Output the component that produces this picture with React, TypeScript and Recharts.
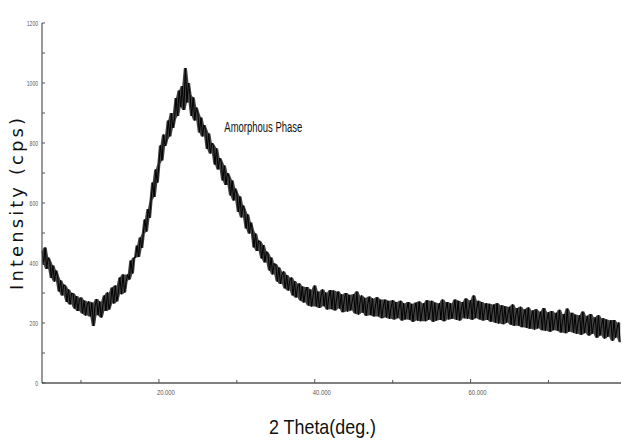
import React from 'react';
import {
  ComposedChart,
  Line,
  Area,
  XAxis,
  YAxis,
  ReferenceDot,
  Label,
} from 'recharts';

// measurement grid: 5.0 deg start, 0.2 deg step
const START_ANGLE = 5;
const STEP = 0.2;

// intensity (cps), five readings per degree
const intensity: number[] = [
  440, 395, 452, 380, 418, // 5
  405, 350, 392, 338, 375, // 6
  355, 305, 342, 292, 328, // 7
  322, 270, 312, 262, 300, // 8
  298, 248, 290, 240, 278, // 9
  285, 232, 275, 225, 262, // 10
  272, 222, 268, 190, 255, // 11
  280, 226, 272, 218, 258, // 12
  292, 240, 302, 245, 270, // 13
  318, 265, 325, 272, 302, // 14
  352, 296, 362, 302, 340, // 15
  362, 345, 408, 365, 418, // 16
  418, 458, 420, 485, 450, // 17
  498, 545, 505, 580, 550, // 18
  610, 668, 620, 712, 668, // 19
  730, 792, 742, 828, 790, // 20
  812, 875, 822, 900, 850, // 21
  880, 950, 890, 975, 920, // 22
  990, 910, 1050, 935, 1000, // 23
  960, 890, 952, 875, 918, // 24
  900, 835, 885, 822, 860, // 25
  845, 780, 832, 765, 800, // 26
  792, 728, 782, 712, 750, // 27
  738, 675, 725, 660, 700, // 28
  688, 625, 675, 608, 648, // 29
  632, 570, 622, 552, 592, // 30
  575, 515, 562, 498, 535, // 31
  510, 452, 498, 440, 475, // 32
  470, 415, 460, 402, 438, // 33
  430, 375, 418, 362, 398, // 34
  395, 338, 385, 330, 362, // 35
  372, 315, 360, 308, 342, // 36
  352, 292, 340, 285, 322, // 37
  332, 275, 322, 268, 305, // 38
  320, 258, 312, 255, 292, // 39
  325, 255, 305, 250, 288, // 40
  312, 256, 302, 245, 285, // 41
  310, 246, 308, 242, 280, // 42
  305, 248, 296, 236, 278, // 43
  300, 238, 294, 242, 272, // 44
  296, 232, 305, 228, 268, // 45
  292, 234, 284, 224, 264, // 46
  288, 226, 282, 222, 260, // 47
  286, 222, 278, 216, 256, // 48
  278, 218, 274, 214, 252, // 49
  276, 212, 270, 216, 248, // 50
  274, 208, 266, 212, 246, // 51
  270, 211, 264, 204, 244, // 52
  268, 208, 272, 206, 242, // 53
  266, 206, 276, 211, 240, // 54
  274, 204, 268, 208, 242, // 55
  266, 210, 278, 206, 244, // 56
  270, 212, 266, 214, 242, // 57
  278, 211, 274, 208, 246, // 58
  270, 216, 282, 214, 248, // 59
  276, 211, 292, 216, 250, // 60
  274, 212, 270, 208, 246, // 61
  266, 210, 264, 204, 240, // 62
  262, 201, 266, 198, 236, // 63
  259, 196, 256, 201, 232, // 64
  254, 194, 262, 191, 228, // 65
  250, 191, 254, 186, 224, // 66
  246, 184, 252, 181, 220, // 67
  242, 178, 246, 182, 216, // 68
  238, 176, 250, 174, 212, // 69
  236, 171, 240, 176, 208, // 70
  234, 174, 244, 168, 206, // 71
  230, 166, 248, 171, 204, // 72
  234, 168, 228, 164, 202, // 73
  226, 161, 238, 166, 200, // 74
  224, 158, 230, 164, 197, // 75
  219, 151, 226, 158, 192, // 76
  216, 148, 212, 154, 188, // 77
  209, 141, 210, 151, 182, // 78
  202, 136, // 79
];

const xTicks = [10, 20, 30, 40, 50, 60, 70];
const xTickLabels: Record<number, string> = { 20: '20.000', 40: '40.000', 60: '60.000' };
const yTicks = [0, 100, 200, 300, 400, 500, 600, 700, 800, 900, 1000, 1100, 1200];
const yTickLabels: Record<number, string> = {
  0: '0', 200: '200', 400: '400', 600: '600', 800: '800', 1000: '1000', 1200: '1200',
};

// dark noise band = spread of neighbouring readings, trace drawn on top
const data = intensity.map((v, i) => {
  const near = intensity.slice(Math.max(0, i - 1), i + 2);
  return {
    angle: START_ANGLE + i * STEP,
    cps: v,
    band: [Math.min(...near), Math.max(...near)],
  };
});

const sans = '"Liberation Sans", Arial, sans-serif';
const axisColor = '#555';

const BottomTick = (props: any) => {
  const { x, y, payload } = props;
  const label = xTickLabels[payload.value];
  return (
    <g>
      <line x1={x} y1={y} x2={x} y2={y - (label ? 4 : 3)} stroke={axisColor} strokeWidth={1} />
      {label && (
        <text
          x={x + 7}
          y={y + 12}
          textAnchor="middle"
          fontSize={8}
          fill="#555"
          fontFamily={sans}
          textLength={18}
          lengthAdjust="spacingAndGlyphs"
        >
          {label}
        </text>
      )}
    </g>
  );
};

const TopTick = (props: any) => {
  const { x, y } = props;
  return <line x1={x} y1={y} x2={x} y2={y + 3} stroke={axisColor} strokeWidth={1} />;
};

const LeftTick = (props: any) => {
  const { x, y, payload } = props;
  const label = yTickLabels[payload.value];
  return (
    <g>
      <line x1={x} y1={y} x2={x + 3} y2={y} stroke={axisColor} strokeWidth={1} />
      {label && (
        <text
          x={x - 4}
          y={y + 3}
          textAnchor="end"
          fontSize={8}
          fill="#555"
          fontFamily={sans}
          textLength={label.length * 2.8}
          lengthAdjust="spacingAndGlyphs"
        >
          {label}
        </text>
      )}
    </g>
  );
};

const RightTick = (props: any) => {
  const { x, y, payload } = props;
  const major = yTickLabels[payload.value] !== undefined;
  return <line x1={x} y1={y} x2={x - (major ? 4 : 2)} y2={y} stroke={axisColor} strokeWidth={1} />;
};

const XTitle = ({ viewBox }: any) => (
  <text
    x={viewBox.x + viewBox.width / 2 - 9}
    y={viewBox.y + 51}
    textAnchor="middle"
    fontSize={21}
    fill="#111"
    fontFamily={sans}
    textLength={107}
    lengthAdjust="spacingAndGlyphs"
  >
    2 Theta(deg.)
  </text>
);

const YTitle = ({ viewBox }: any) => {
  const cx = 23;
  const cy = viewBox.y + viewBox.height / 2 + 1;
  return (
    <text
      transform={`translate(${cx},${cy}) rotate(-90)`}
      textAnchor="middle"
      fontSize={18}
      fill="#111"
      fontFamily='"DejaVu Sans", Verdana, sans-serif'
      textLength={172}
      lengthAdjust="spacing"
    >
      Intensity (cps)
    </text>
  );
};

const NoteLabel = ({ viewBox }: any) => (
  <text
    x={viewBox.x}
    y={viewBox.y + 5}
    textAnchor="middle"
    fontSize={14}
    fill="#111"
    fontFamily={sans}
    textLength={78}
    lengthAdjust="spacingAndGlyphs"
  >
    Amorphous Phase
  </text>
);

export default function App() {
  return (
    <div style={{ position: 'absolute', left: 0, top: 0, background: '#fff' }}>
      <ComposedChart width={622} height={443} data={data} margin={{ top: 23, right: 1, bottom: 0, left: 0 }}>
        <XAxis
          xAxisId="bottom"
          dataKey="angle"
          type="number"
          domain={[5, 79.3]}
          ticks={xTicks}
          tick={<BottomTick />}
          tickLine={false}
          tickSize={0}
          tickMargin={0}
          height={60}
          stroke={axisColor}
          strokeWidth={1.5}
        >
          <Label content={<XTitle />} />
        </XAxis>
        <XAxis
          xAxisId="top"
          orientation="top"
          dataKey="angle"
          type="number"
          domain={[5, 79.3]}
          ticks={xTicks}
          tick={<TopTick />}
          tickLine={false}
          tickSize={0}
          tickMargin={0}
          height={0}
          stroke={axisColor}
          strokeWidth={1.5}
        />
        <YAxis
          yAxisId="left"
          domain={[0, 1200]}
          ticks={yTicks}
          tick={<LeftTick />}
          tickLine={false}
          tickSize={0}
          tickMargin={0}
          width={42}
          stroke={axisColor}
          strokeWidth={1.2}
        >
          <Label content={<YTitle />} />
        </YAxis>
        <YAxis
          yAxisId="right"
          orientation="right"
          domain={[0, 1200]}
          ticks={yTicks}
          tick={<RightTick />}
          tickLine={false}
          axisLine={false}
          tickSize={0}
          tickMargin={0}
          width={0}
        />
        <Area
          xAxisId="bottom"
          yAxisId="left"
          type="linear"
          dataKey="band"
          stroke="none"
          fill="#111"
          fillOpacity={0.8}
          isAnimationActive={false}
        />
        <Line
          xAxisId="bottom"
          yAxisId="left"
          type="linear"
          dataKey="cps"
          stroke="#000"
          strokeWidth={1}
          dot={false}
          isAnimationActive={false}
        />
        <ReferenceDot
          xAxisId="bottom"
          yAxisId="left"
          x={33.4}
          y={853}
          r={0}
          fill="none"
          stroke="none"
          label={<NoteLabel />}
        />
      </ComposedChart>
    </div>
  );
}
